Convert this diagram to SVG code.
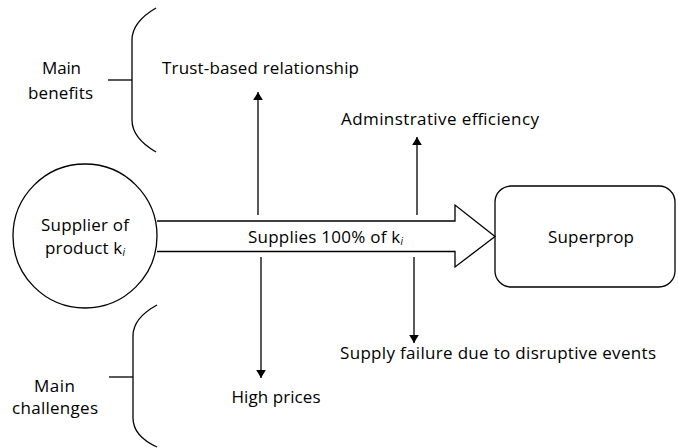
<svg xmlns="http://www.w3.org/2000/svg" width="678" height="448" viewBox="0 0 678 448">
<style>
text{font-family:"Open Sans","Liberation Sans",Arial,sans-serif;font-size:17px;fill:#000}
.ln{stroke:#000;stroke-width:1.3;fill:none}
.sub{font-size:10px;font-style:italic}
</style>
<defs>
<marker id="ah" viewBox="0 0 10 12" refX="10" refY="6" markerWidth="8" markerHeight="11" markerUnits="userSpaceOnUse" orient="auto">
<path d="M0,0 L10,6 L0,12 Z" fill="#000"/>
</marker>
</defs>
<rect width="678" height="448" fill="#fff"/>
<g id="braces">
<path class="ln" d="M156,8 Q132,22 132,40 L132,120 Q132,138 156,152"/>
<line class="ln" x1="108" y1="80" x2="132" y2="80"/>
<path class="ln" d="M157,305 Q133,318 133,336 L133,418 Q133,436 157,447"/>
<line class="ln" x1="109" y1="377" x2="133" y2="377"/>
</g>
<g id="labels">
<text x="61.5" y="74" text-anchor="middle" textLength="39">Main</text>
<text x="60.5" y="99" text-anchor="middle" textLength="65">benefits</text>
<text x="54.5" y="392" text-anchor="middle" textLength="41">Main</text>
<text x="55" y="414" text-anchor="middle" textLength="86">challenges</text>
</g>
<g id="supplier">
<circle class="ln" cx="85" cy="236" r="72"/>
<text x="85" y="231" text-anchor="middle" textLength="88">Supplier of</text>
<text x="85" y="254" text-anchor="middle" textLength="80">product k<tspan class="sub" dy="2">i</tspan></text>
</g>
<g id="flow">
<path class="ln" fill="#fff" d="M157,221 L455,221 L455,205 L495,236.5 L455,267 L455,251.5 L157,251.5"/>
<text x="325.5" y="243" text-anchor="middle" textLength="155">Supplies 100% of k<tspan class="sub" dy="2">i</tspan></text>
</g>
<g id="superprop">
<rect class="ln" x="495" y="186" width="180" height="101" rx="16"/>
<text x="591" y="243" text-anchor="middle" textLength="86">Superprop</text>
</g>
<g id="connectors">
<line class="ln" x1="258" y1="215" x2="258" y2="92" marker-end="url(#ah)"/>
<line class="ln" x1="417" y1="215" x2="417" y2="137" marker-end="url(#ah)"/>
<line class="ln" x1="261" y1="257" x2="261" y2="378" marker-end="url(#ah)"/>
<line class="ln" x1="414" y1="257" x2="414" y2="343" marker-end="url(#ah)"/>
</g>
<g id="effects">
<text x="260.5" y="74" text-anchor="middle" textLength="197">Trust-based relationship</text>
<text x="440" y="125" text-anchor="middle" textLength="198">Adminstrative efficiency</text>
<text x="498" y="359" text-anchor="middle" textLength="316">Supply failure due to disruptive events</text>
<text x="276" y="403" text-anchor="middle" textLength="89">High prices</text>
</g>
</svg>
